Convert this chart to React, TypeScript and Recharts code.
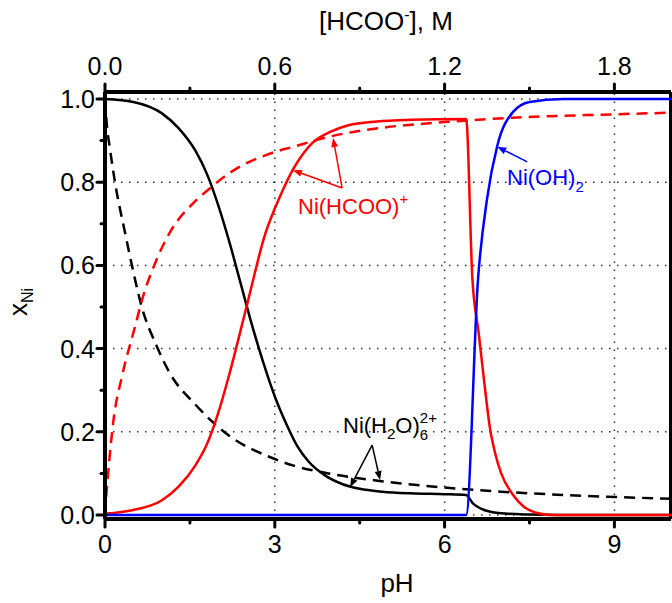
import { LineChart, Line, XAxis, YAxis, ReferenceLine } from "recharts";

// [pH, fraction]
const aquaVsPh: [number, number][] = [
  [0, 1.0], [0.5, 0.993], [1.0, 0.966], [1.3, 0.93], [1.6, 0.875], [1.8, 0.82],
  [2.0, 0.745], [2.2, 0.655], [2.4, 0.555], [2.6, 0.455], [2.8, 0.365], [3.0, 0.285],
  [3.2, 0.22], [3.4, 0.165], [3.6, 0.128], [3.9, 0.094], [4.2, 0.074], [4.5, 0.063],
  [4.9, 0.056], [5.4, 0.052], [6.0, 0.05], [6.38, 0.048], [6.5, 0.028], [6.7, 0.012],
  [7.0, 0.004], [7.5, 0.001], [8.0, 0], [10, 0],
];
const formateVsPh: [number, number][] = [
  [0, 0.003], [0.5, 0.012], [1.0, 0.035], [1.3, 0.068], [1.6, 0.12], [1.8, 0.17],
  [2.0, 0.245], [2.2, 0.34], [2.5, 0.5], [2.83, 0.675], [3.09, 0.765], [3.32, 0.83],
  [3.67, 0.895], [4.0, 0.922], [4.3, 0.937], [4.8, 0.946], [5.4, 0.95], [6.38, 0.952],
  [6.49, 0.57], [6.6, 0.44], [6.7, 0.32], [6.8, 0.21], [6.9, 0.145], [7.0, 0.1],
  [7.2, 0.05], [7.4, 0.02], [7.6, 0.006], [7.9, 0], [10, 0],
];
const hydroxideVsPh: [number, number][] = [
  [0, 0], [6.38, 0], [6.59, 0.566], [6.75, 0.76], [6.93, 0.887], [7.21, 0.969],
  [7.5, 0.993], [8.1, 1.0], [10, 1.0],
];
// [[HCOO-] M, fraction]
const formateVsConc: [number, number][] = [
  [0, 0], [0.004, 0.04], [0.015, 0.13], [0.03, 0.228], [0.06, 0.333], [0.107, 0.455],
  [0.13, 0.515], [0.18, 0.61], [0.23, 0.68], [0.32, 0.755], [0.37, 0.785], [0.44, 0.822],
  [0.58, 0.868], [0.67, 0.886], [0.79, 0.909], [0.97, 0.93], [1.21, 0.945], [1.44, 0.955],
  [1.79, 0.963], [2.0, 0.967],
];
const aquaVsConc: [number, number][] = [
  [0, 1.0], [0.005, 0.95], [0.018, 0.878], [0.036, 0.797], [0.072, 0.675], [0.1, 0.585],
  [0.13, 0.5], [0.18, 0.41], [0.23, 0.34], [0.32, 0.265], [0.44, 0.19], [0.58, 0.14],
  [0.67, 0.118], [0.79, 0.1], [0.97, 0.082], [1.18, 0.067], [1.4, 0.056], [1.63, 0.048],
  [2.0, 0.039],
];

const phTicks = [0, 1.5, 3, 4.5, 6, 7.5, 9];
const phMajor = [0, 3, 6, 9];
const concTicks = [0, 0.3, 0.6, 0.9, 1.2, 1.5, 1.8];
const concMajor = [0, 0.6, 1.2, 1.8];
const yTicks = [0, 0.1, 0.2, 0.3, 0.4, 0.5, 0.6, 0.7, 0.8, 0.9, 1.0];
const yMajor = [0, 0.2, 0.4, 0.6, 0.8, 1.0];

// label arrows in pH / fraction units
const arrows: { from: [number, number]; to: [number, number]; color: string }[] = [
  { from: [4.19, 0.786], to: [3.32, 0.829], color: "#ff0000" },
  { from: [4.19, 0.786], to: [4.03, 0.906], color: "#ff0000" },
  { from: [7.46, 0.849], to: [6.93, 0.885], color: "#0000ff" },
  { from: [4.72, 0.168], to: [4.33, 0.067], color: "#000000" },
  { from: [4.72, 0.168], to: [4.86, 0.084], color: "#000000" },
];

const FONT = "'Liberation Sans', Arial, sans-serif";
const toPoints = (arr: [number, number][]) => arr.map(([x, y]) => ({ x, y }));

function BottomTick(props: any) {
  const { x, y, payload } = props;
  const major = phMajor.includes(payload.value);
  return (
    <g>
      <line x1={x} y1={y} x2={x} y2={y + (major ? 8 : 4)} stroke="#000" strokeWidth={3} strokeLinecap="round" />
      {major && (
        <text x={x} y={y + 34} textAnchor="middle" fontSize={25} fontFamily={FONT} fill="#000">
          {payload.value}
        </text>
      )}
    </g>
  );
}

function TopTick(props: any) {
  const { x, y, payload } = props;
  const major = concMajor.includes(payload.value);
  return (
    <g>
      <line x1={x} y1={y} x2={x} y2={y - (major ? 8 : 4)} stroke="#000" strokeWidth={3} strokeLinecap="round" />
      {major && (
        <text x={x} y={y - 17} textAnchor="middle" fontSize={25} fontFamily={FONT} fill="#000">
          {payload.value.toFixed(1)}
        </text>
      )}
    </g>
  );
}

function LeftTick(props: any) {
  const { x, y, payload } = props;
  const major = yMajor.includes(payload.value);
  return (
    <g>
      <line x1={x} y1={y} x2={x - (major ? 8 : 4)} y2={y} stroke="#000" strokeWidth={3} strokeLinecap="round" />
      {major && (
        <text x={x - 10} y={y} dy="0.36em" textAnchor="end" fontSize={25} fontFamily={FONT} fill="#000">
          {payload.value.toFixed(1)}
        </text>
      )}
    </g>
  );
}

function arrowShape(color: string) {
  return (props: any) => {
    const { x1, y1, x2, y2 } = props;
    const a = Math.atan2(y2 - y1, x2 - x1);
    const L = 9;
    const W = 3.5;
    const bx = x2 - L * Math.cos(a);
    const by = y2 - L * Math.sin(a);
    const pts = `${x2},${y2} ${bx - W * Math.sin(a)},${by + W * Math.cos(a)} ${bx + W * Math.sin(a)},${by - W * Math.cos(a)}`;
    return (
      <g>
        <line x1={x1} y1={y1} x2={bx} y2={by} stroke={color} strokeWidth={1.5} />
        <polygon points={pts} fill={color} />
      </g>
    );
  };
}

const axisLine = { stroke: "#000", strokeWidth: 4 };
const grid = { stroke: "#333", strokeWidth: 1.5, strokeDasharray: "1.5 6.5" };

export default function App() {
  return (
    <div style={{ position: "absolute", left: 0, top: 0, width: 672, height: 603, background: "#fff" }}>
      <LineChart width={672} height={603} margin={{ top: 52, right: 1, bottom: 44, left: 45 }}>
        <XAxis
          xAxisId="ph"
          type="number"
          dataKey="x"
          domain={[0, 10]}
          ticks={phTicks}
          interval={0}
          orientation="bottom"
          height={40}
          allowDataOverflow
          axisLine={axisLine}
          tickLine={false}
          tickSize={0}
          tickMargin={0}
          tick={(p: any) => <BottomTick {...p} />}
        />
        <XAxis
          xAxisId="c"
          type="number"
          dataKey="x"
          domain={[0, 2]}
          ticks={concTicks}
          interval={0}
          orientation="top"
          height={40}
          allowDataOverflow
          axisLine={axisLine}
          tickLine={false}
          tickSize={0}
          tickMargin={0}
          tick={(p: any) => <TopTick {...p} />}
        />
        <YAxis
          yAxisId="v"
          type="number"
          domain={[-0.0096, 1.0168]}
          ticks={yTicks}
          interval={0}
          width={60}
          allowDataOverflow
          axisLine={axisLine}
          tickLine={false}
          tickSize={0}
          tickMargin={0}
          tick={(p: any) => <LeftTick {...p} />}
        />

        {yMajor.map((v) => (
          <ReferenceLine key={"gy" + v} xAxisId="ph" yAxisId="v" y={v} {...grid} />
        ))}
        {[3, 6, 9].map((v) => (
          <ReferenceLine key={"gx" + v} xAxisId="ph" yAxisId="v" x={v} {...grid} />
        ))}
        <ReferenceLine xAxisId="ph" yAxisId="v" x={10} stroke="#000" strokeWidth={4} />

        <Line xAxisId="c" yAxisId="v" data={toPoints(aquaVsConc)} dataKey="y" type="monotone"
          stroke="#000" strokeWidth={2.5} strokeDasharray="11 7" dot={false} isAnimationActive={false} />
        <Line xAxisId="c" yAxisId="v" data={toPoints(formateVsConc)} dataKey="y" type="monotone"
          stroke="#ff0000" strokeWidth={2.5} strokeDasharray="11 7" dot={false} isAnimationActive={false} />
        <Line xAxisId="ph" yAxisId="v" data={toPoints(aquaVsPh)} dataKey="y" type="monotone"
          stroke="#000" strokeWidth={2.5} dot={false} isAnimationActive={false} />
        <Line xAxisId="ph" yAxisId="v" data={toPoints(formateVsPh)} dataKey="y" type="monotone"
          stroke="#ff0000" strokeWidth={2.5} dot={false} isAnimationActive={false} />
        <Line xAxisId="ph" yAxisId="v" data={toPoints(hydroxideVsPh)} dataKey="y" type="monotone"
          stroke="#0000ff" strokeWidth={2.5} dot={false} isAnimationActive={false} />

        {arrows.map((a, i) => (
          <ReferenceLine
            key={"ar" + i}
            xAxisId="ph"
            yAxisId="v"
            segment={[{ x: a.from[0], y: a.from[1] }, { x: a.to[0], y: a.to[1] }]}
            shape={arrowShape(a.color)}
          />
        ))}
      </LineChart>

      <svg width={672} height={603} style={{ position: "absolute", left: 0, top: 0, pointerEvents: "none" }} fontFamily={FONT}>
        <text x={386} y={30} textAnchor="middle" fontSize={26} fill="#000">
          [HCOO<tspan dy={-10} fontSize={16}>-</tspan><tspan dy={10} fontSize={26}>], M</tspan>
        </text>
        <text x={397} y={592} textAnchor="middle" fontSize={26} fill="#000">pH</text>
        <text transform="translate(27,302) rotate(-90)" textAnchor="middle" fontSize={26} fill="#000">
          x<tspan dy={6} fontSize={16}>Ni</tspan>
        </text>
        <text x={298} y={214} fontSize={22} fill="#ff0000">
          Ni(HCOO)<tspan dy={-10} fontSize={15}>+</tspan>
        </text>
        <text x={507} y={185} fontSize={22} fill="#0000ff">
          Ni(OH)<tspan dy={7} fontSize={15}>2</tspan>
        </text>
        <text x={343} y={433} fontSize={22} fill="#000">
          Ni(H<tspan dy={6} fontSize={15}>2</tspan>
          <tspan dy={-6} fontSize={22}>O)</tspan>
          <tspan dy={7} fontSize={15}>6</tspan>
          <tspan dx={-8.3} dy={-17} fontSize={15}>2+</tspan>
        </text>
      </svg>
    </div>
  );
}
